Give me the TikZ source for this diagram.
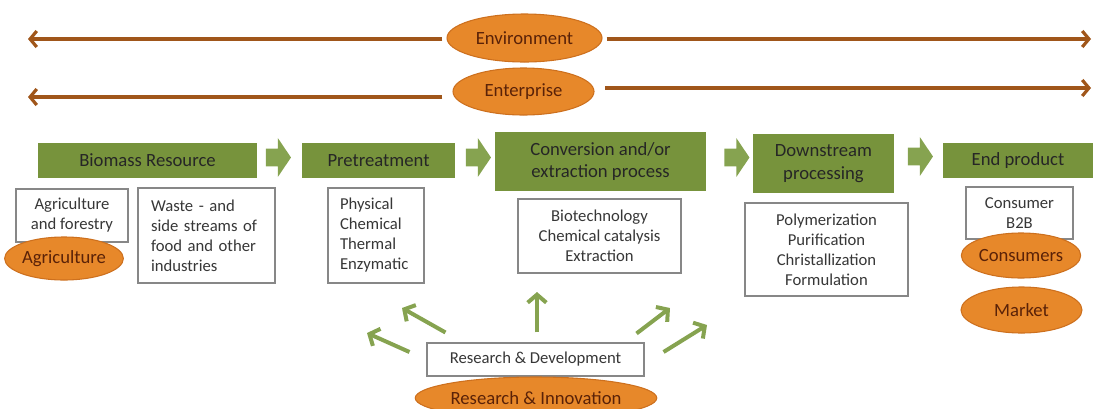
\documentclass[tikz,border=0pt]{standalone}
\usepackage{fontspec}
\setmainfont{Carlito}
\usetikzlibrary{shapes.geometric,shapes.arrows,arrows.meta,positioning,calc}

\definecolor{stepgreen}{RGB}{119,147,60}
\definecolor{arrowgreen}{RGB}{134,163,80}
\definecolor{ovalorange}{RGB}{231,136,42}
\definecolor{ovalborder}{RGB}{205,112,30}
\definecolor{ovaltext}{RGB}{90,34,8}
\definecolor{linebrown}{RGB}{160,86,26}
\definecolor{boxgray}{RGB}{135,135,135}
\definecolor{textgray}{RGB}{55,55,55}

\tikzset{
  stage/.style={rectangle, fill=stepgreen, inner sep=0pt, align=center,
    text=black!85, font=\fontsize{14}{17}\selectfont},
  flowarrow/.style={single arrow, fill=arrowgreen, draw=none, inner sep=0pt,
    inner ysep=6.4pt, minimum height=18.75pt, single arrow head extend=8pt,
    single arrow tip angle=112},
  infobox/.style={rectangle, draw=boxgray, line width=0.8pt, fill=white,
    inner sep=0pt, align=center, text=textgray,
    font=\fontsize{12.5}{15}\selectfont},
  oval/.style={ellipse, fill=ovalorange, draw=ovalborder, line width=0.8pt,
    inner sep=0pt, text=ovaltext, font=\fontsize{14}{17}\selectfont},
  brownline/.style={draw=linebrown, line width=2.4pt,
    -{Straight Barb[length=5pt,width=12pt]}},
  rdarrow/.style={draw=arrowgreen, line width=3pt,
    -{Straight Barb[length=6pt,width=14pt]}}
}

\begin{document}
\begin{tikzpicture}[x=0.75pt,y=-0.75pt]
\useasboundingbox (0,0) rectangle (1093,408);

% top level ovals and their arrows
\node[oval, minimum width=116.25pt, minimum height=36pt] (environment) at (524.5,38) {Environment};
\node[oval, minimum width=105.75pt, minimum height=35.25pt] (enterprise) at (523.5,91.5) {Enterprise};
\coordinate (envL) at (28,39);
\coordinate (envR) at (1091,39);
\coordinate (entL) at (28,97);
\coordinate (entR) at (1091,88);
\draw[brownline, shorten <=3pt] (environment.west |- envL) -- (envL);
\draw[brownline, shorten <=3pt] (environment.east |- envR) -- (envR);
\draw[brownline, shorten <=7.5pt] (enterprise.west |- entL) -- (entL);
\draw[brownline, shorten <=8pt] (enterprise.east |- entR) -- (entR);

% process chain
\node[stage, minimum width=164.25pt, minimum height=26.25pt] (biomass) at (147.5,160.5) {Biomass Resource};
\node[stage, minimum width=114.75pt, minimum height=26.25pt] (pretreat) at (378.5,160.5) {Pretreatment};
\node[stage, minimum width=158.25pt, minimum height=44.25pt] (conversion) at (600.5,161.5) {Conversion and/or\\extraction process};
\node[stage, minimum width=105.75pt, minimum height=44.25pt] (downstream) at (823.5,163.5) {Downstream\\processing};
\node[stage, minimum width=112.5pt, minimum height=26.25pt] (endproduct) at (1018,160.5) {End product};

\node[flowarrow] (arrA) at (275.5,157.5) {};
\node[flowarrow] (arrB) at (475.5,157.5) {};
\node[flowarrow] (arrC) at (734,157.5) {};
\node[flowarrow] (arrD) at (917.5,156.5) {};

% detail boxes
\node[infobox, minimum width=84pt, minimum height=39.75pt] (forestry) at (72,215.5) {Agriculture\\and forestry};
\node[infobox, align=left, inner xsep=9.75pt, text width=83.25pt, minimum height=71.25pt] (waste) at (206.5,235.5) {Waste - and\\side streams of\\food and other\\industries};
\node[infobox, align=left, inner xsep=9pt, text width=54pt, minimum height=71.25pt] (methods) at (376,235.5) {Physical\\Chemical\\Thermal\\Enzymatic};
\node[infobox, minimum width=122.25pt, minimum height=55.5pt] (biotech) at (599.5,236) {Biotechnology\\Chemical catalysis\\Extraction};
\node[infobox, minimum width=122.25pt, minimum height=69.75pt] (polymer) at (826.5,249.5) {Polymerization\\Purification\\Christallization\\Formulation};
\node[infobox, minimum width=80.25pt, minimum height=39pt] (consumer) at (1019.5,213) {Consumer\\B2B};
\node[infobox, minimum width=162.75pt, minimum height=24.75pt] (rnd) at (535.5,359.5) {Research \& Development};

% ovals below
\node[oval, minimum width=88.5pt, minimum height=32.25pt] (agriculture) at (64,258.5) {Agriculture};
\node[oval, minimum width=88.5pt, minimum height=33.75pt] (consumers) at (1021,255.5) {Consumers};
\node[oval, minimum width=90.75pt, minimum height=34.5pt] (market) at (1021.5,310) {Market};
\node[oval, minimum width=151.5pt, minimum height=31.5pt] (innovation) at (536,398) {Research \& Innovation};

% research arrows
\coordinate (tipA) at (367,333);
\coordinate (tipB) at (402,308);
\coordinate (tipC) at (537,292);
\coordinate (tipD) at (670,308);
\coordinate (tipE) at (707,325);
\draw[rdarrow] ([shift={(-17,-7.5)}]rnd.west) -- (tipA);
\draw[rdarrow] ([shift={(19,-10)}]rnd.north west) -- (tipB);
\draw[rdarrow] ([shift={(1.5,-10)}]rnd.north) -- (tipC);
\draw[rdarrow] ([shift={(-8,-9)}]rnd.north east) -- (tipD);
\draw[rdarrow] ([shift={(19,-7.5)}]rnd.east) -- (tipE);
\end{tikzpicture}
\end{document}
